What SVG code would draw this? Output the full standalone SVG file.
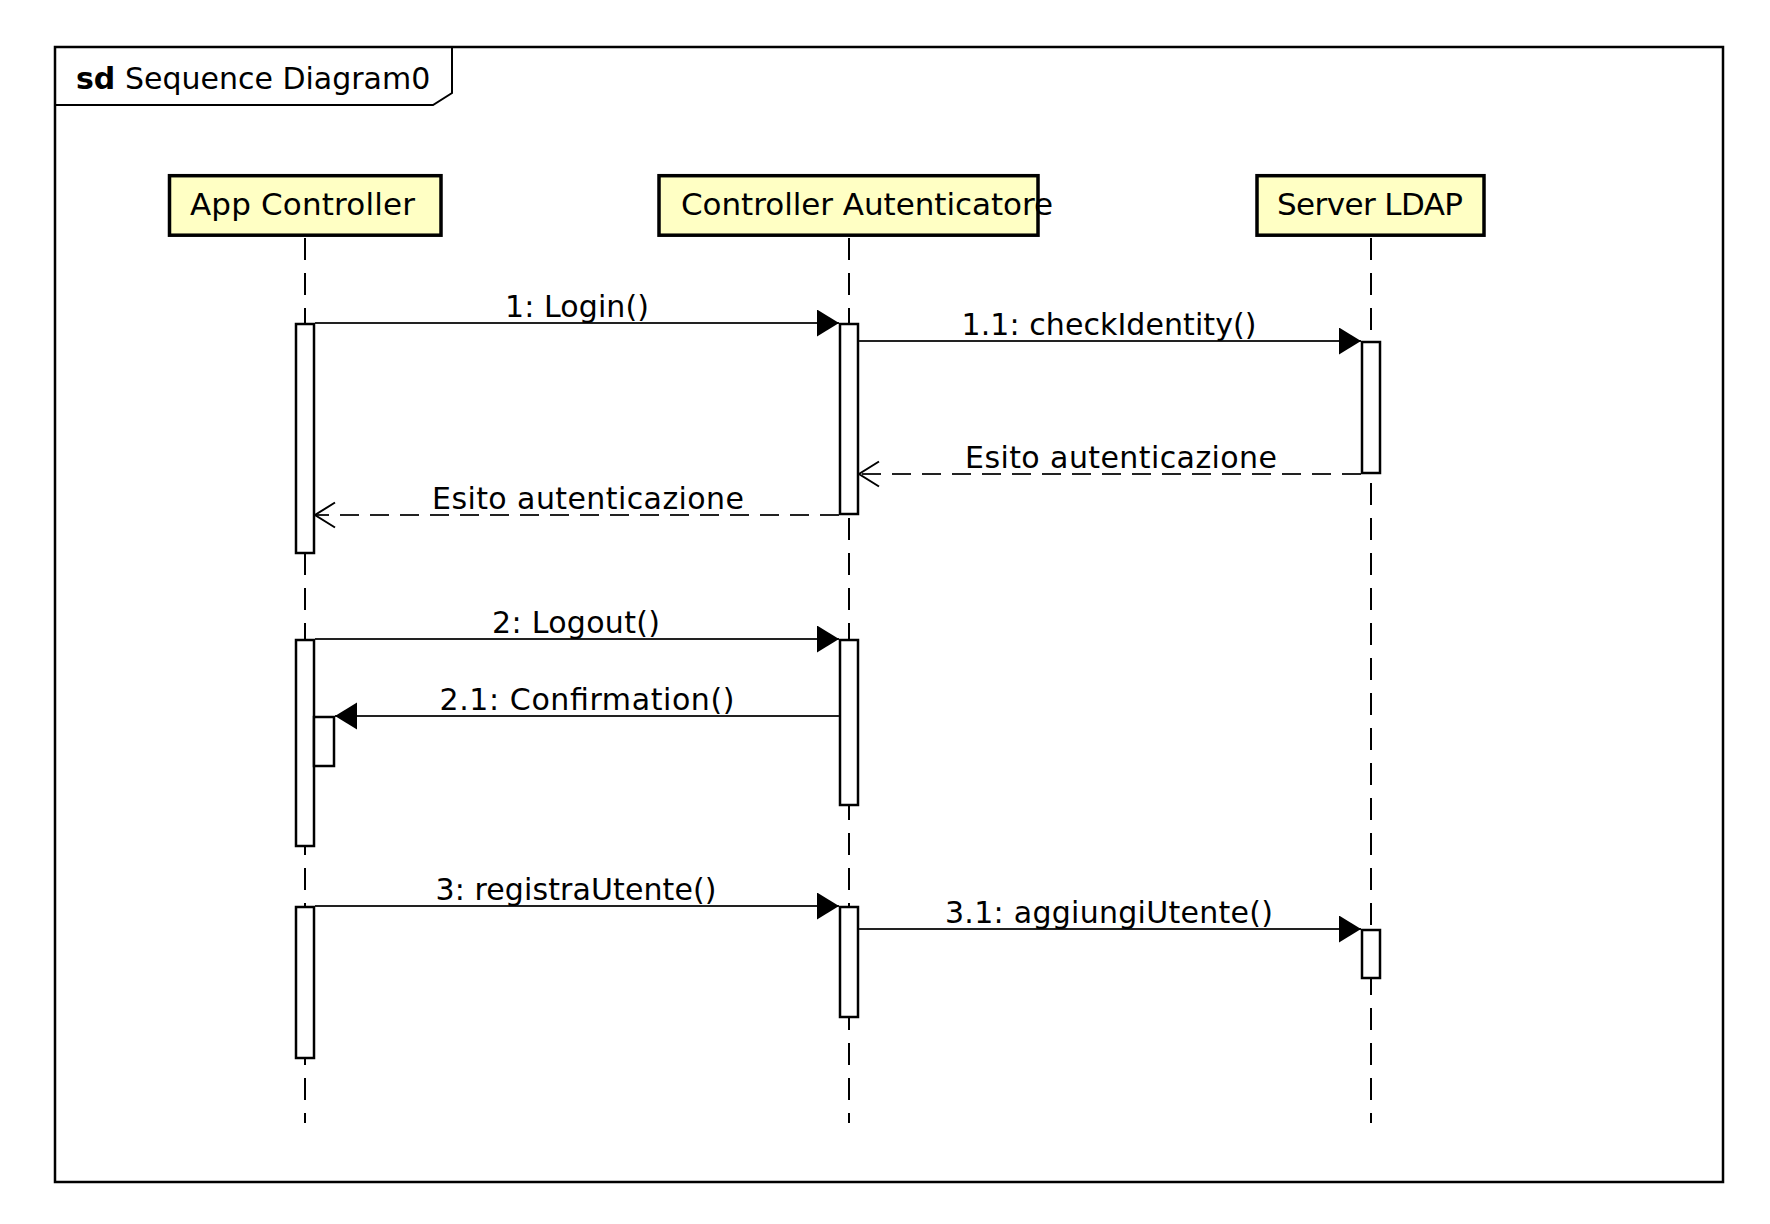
<svg xmlns="http://www.w3.org/2000/svg" width="1770" height="1224" viewBox="0 0 1770 1224">
  <style>
    text { font-family: "DejaVu Sans", "Liberation Sans", sans-serif; fill: #000; }
    .frame { fill: none; stroke: #000; stroke-width: 2.5; }
    .tab { fill: none; stroke: #000; stroke-width: 2; }
    .title { font-size: 30px; }
    .head { fill: #FFFFC4; stroke: #000; stroke-width: 3.5; }
    .head-label { font-size: 31px; }
    .lifeline { stroke: #000; stroke-width: 2; stroke-dasharray: 22 13; fill: none; }
    .bar { fill: #fff; stroke: #000; stroke-width: 2.5; }
    .msg { stroke: #222; stroke-width: 2; fill: none; marker-end: url(#filled); }
    .ret { stroke: #222; stroke-width: 2; fill: none; stroke-dasharray: 19 11; marker-end: url(#open); }
    .label { font-size: 30px; text-anchor: middle; }
  </style>
  <defs>
    <marker id="filled" markerUnits="userSpaceOnUse" markerWidth="24" markerHeight="28" refX="22" refY="13.5" orient="auto">
      <path d="M0,0 L22,13.5 L0,27 Z" fill="#000"/>
    </marker>
    <marker id="open" markerUnits="userSpaceOnUse" markerWidth="24" markerHeight="30" refX="21" refY="13.5" orient="auto">
      <path d="M1,1 L21,13.5 L1,26" fill="none" stroke="#000" stroke-width="2"/>
    </marker>
  </defs>

  <rect width="1770" height="1224" fill="#fff"/>

  <!-- sequence frame with its name tab -->
  <g id="frame">
    <rect class="frame" x="55" y="47" width="1668" height="1135"/>
    <path class="tab" d="M55,105 L433,105 L452,93 L452,47"/>
    <text class="title" x="76" y="88.5"><tspan font-weight="bold">sd</tspan> Sequence Diagram0</text>
  </g>

  <!-- lifelines -->
  <g id="lifelines">
    <line class="lifeline" x1="305" y1="238" x2="305" y2="1123"/>
    <line class="lifeline" x1="849" y1="238" x2="849" y2="1123"/>
    <line class="lifeline" x1="1371" y1="238" x2="1371" y2="1123"/>
  </g>

  <!-- participants -->
  <g id="app-controller">
    <rect class="head" x="169.5" y="175.7" width="271.5" height="59.5"/>
    <text class="head-label" x="190" y="215" textLength="225">App Controller</text>
  </g>
  <g id="controller-autenticatore">
    <rect class="head" x="659" y="175.7" width="379" height="59.5"/>
    <text class="head-label" x="681" y="215" textLength="372">Controller Autenticatore</text>
  </g>
  <g id="server-ldap">
    <rect class="head" x="1257" y="175.7" width="227" height="59.5"/>
    <text class="head-label" x="1277" y="215" textLength="186">Server LDAP</text>
  </g>

  <!-- activation bars -->
  <g id="activations">
    <rect class="bar" x="296" y="324" width="18" height="229"/>
    <rect class="bar" x="840" y="324" width="18" height="190"/>
    <rect class="bar" x="1362" y="342" width="18" height="131"/>
    <rect class="bar" x="296" y="640" width="18" height="206"/>
    <rect class="bar" x="840" y="640" width="18" height="165"/>
    <rect class="bar" x="314" y="717" width="20" height="49"/>
    <rect class="bar" x="296" y="907" width="18" height="151"/>
    <rect class="bar" x="840" y="907" width="18" height="110"/>
    <rect class="bar" x="1362" y="930" width="18" height="48"/>
  </g>

  <!-- messages -->
  <g id="connectors">
    <line class="msg" x1="315" y1="323" x2="839" y2="323"/>
    <line class="msg" x1="859" y1="341" x2="1361" y2="341"/>
    <line class="ret" x1="1361" y1="474" x2="859" y2="474"/>
    <line class="ret" x1="839" y1="515" x2="315" y2="515"/>
    <line class="msg" x1="315" y1="639" x2="839" y2="639"/>
    <line class="msg" x1="839" y1="716" x2="335" y2="716"/>
    <line class="msg" x1="315" y1="906" x2="839" y2="906"/>
    <line class="msg" x1="859" y1="929" x2="1361" y2="929"/>
  </g>

  <g id="labels">
    <text class="label" x="577" y="317" textLength="144">1: Login()</text>
    <text class="label" x="1109" y="335" textLength="295">1.1: checkIdentity()</text>
    <text class="label" x="1121" y="468" textLength="312">Esito autenticazione</text>
    <text class="label" x="588" y="509" textLength="312">Esito autenticazione</text>
    <text class="label" x="576" y="633" textLength="168">2: Logout()</text>
    <text class="label" x="587" y="710" textLength="295">2.1: Confirmation()</text>
    <text class="label" x="576" y="900" textLength="281">3: registraUtente()</text>
    <text class="label" x="1109" y="923" textLength="328">3.1: aggiungiUtente()</text>
  </g>
</svg>
